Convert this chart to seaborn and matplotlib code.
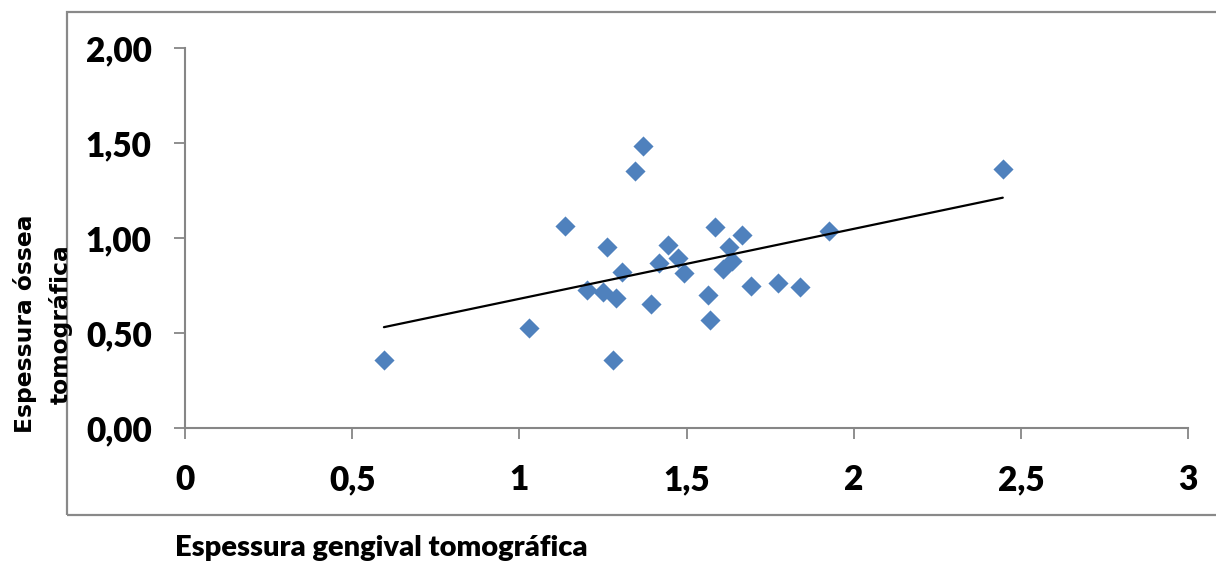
import matplotlib
matplotlib.use("Agg")
import matplotlib.pyplot as plt
import matplotlib.patches as mpatches
import seaborn as sns
import pandas as pd

# gingival thickness (x) vs bone thickness (y)
gengival = [0.595, 1.029, 1.136, 1.201, 1.251, 1.261, 1.289, 1.279, 1.307, 1.346,
            1.369, 1.394, 1.419, 1.444, 1.476, 1.493, 1.564, 1.569, 1.585, 1.608,
            1.627, 1.635, 1.665, 1.692, 1.773, 1.839, 1.926, 2.446]
ossea = [0.359, 0.526, 1.065, 0.725, 0.717, 0.951, 0.686, 0.356, 0.819, 1.353,
         1.486, 0.651, 0.870, 0.965, 0.895, 0.814, 0.702, 0.571, 1.059, 0.837,
         0.951, 0.878, 1.018, 0.745, 0.762, 0.741, 1.038, 1.362]

x_ticks = [0, 0.5, 1, 1.5, 2, 2.5, 3]
x_ticklabels = ['0', '0,5', '1', '1,5', '2', '2,5', '3']
y_ticks = [0, 0.5, 1.0, 1.5, 2.0]
y_ticklabels = ['0,00', '0,50', '1,00', '1,50', '2,00']

df = pd.DataFrame({'gengival': gengival, 'ossea': ossea})

sns.set_style('white')
plt.rcParams['font.family'] = ['Lato', 'DejaVu Sans']
plt.rcParams['text.color'] = 'black'
plt.rcParams['xtick.labelcolor'] = 'black'
plt.rcParams['ytick.labelcolor'] = 'black'

grey = '#868686'
fig = plt.figure(figsize=(12.16, 5.62), dpi=100)
ax = fig.add_axes([185 / 1216, 1 - 428 / 562, (1188 - 185) / 1216, (428 - 48) / 562])

sns.scatterplot(data=df, x='gengival', y='ossea', ax=ax, marker='D', s=105,
                color='#4F81BD', linewidth=0, zorder=2)
sns.regplot(data=df, x='gengival', y='ossea', ax=ax, scatter=False, ci=None,
            line_kws={'color': 'black', 'lw': 1.6, 'zorder': 3})

ax.set_xlim(0, 3)
ax.set_ylim(0, 2)
ax.set_xticks(x_ticks)
ax.set_xticklabels(x_ticklabels)
ax.set_yticks(y_ticks)
ax.set_yticklabels(y_ticklabels)
for lab in ax.get_xticklabels() + ax.get_yticklabels():
    lab.set_fontweight('heavy')
    lab.set_fontsize(24)
    lab.set_color('black')
ax.tick_params(axis='both', direction='out', length=8, width=1.3, color=grey)
ax.tick_params(axis='x', pad=18, bottom=True)
ax.tick_params(axis='y', pad=16, left=True)
ax.set_xlabel('')
ax.set_ylabel('')
ax.spines[['right', 'top']].set_visible(False)
for side in ['left', 'bottom']:
    ax.spines[side].set_color(grey)
    ax.spines[side].set_linewidth(1.5)

# outer chart border
border = mpatches.Rectangle((67 / 1216, 1 - 515 / 562), 1.2, (515 - 12) / 562,
                            transform=fig.transFigure, fill=False,
                            edgecolor='#898989', lw=1.6)
fig.patches.append(border)

fig.text(175 / 1216, 1 - 548 / 562, 'Espessura gengival tomográfica',
         fontsize=21, fontweight='heavy', color='black', ha='left', va='center')
fig.text(43 / 1216, 1 - 324 / 562, 'Espessura óssea\ntomográfica',
         family='DejaVu Sans', fontsize=16.8, fontweight='bold', rotation=90,
         color='black', ha='center', va='center', multialignment='center',
         linespacing=1.6)

fig.savefig('out.png', dpi=100)
